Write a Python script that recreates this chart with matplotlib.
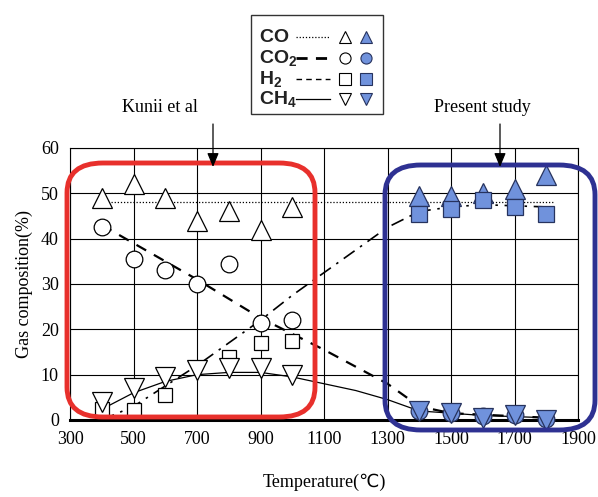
import matplotlib.pyplot as plt
from matplotlib.patches import FancyBboxPatch
from matplotlib.lines import Line2D

W, H = 598, 497

# Kunii et al (open markers)
kunii_t = [400, 500, 600, 700, 800, 900, 1000]
kunii_co = [49, 52, 49, 44, 46, 42, 47]
kunii_co2 = [42.5, 35.5, 33, 30, 34.5, 21.5, 22]
kunii_h2_t = [400, 500, 600, 800, 900, 1000]
kunii_h2 = [2.5, 2.2, 5.5, 14, 17, 17.5]
kunii_ch4 = [4, 7, 9.5, 11, 11.5, 11.5, 10]

# Present study (filled markers)
present_t = [1400, 1500, 1600, 1700, 1800]
present_co = [49.5, 49.5, 50, 51, 54]
present_h2 = [45.5, 46.5, 48.5, 47, 45.5]
present_co2 = [2, 1.5, 0.8, 1, 0.2]
present_ch4 = [2, 1.5, 0.5, 1, 0]

# trend lines
co_line_t = [430, 1820]
co_line = [48, 48]
co2_line_t = [400, 700, 900, 1100, 1300, 1400, 1500, 1800]
co2_line = [43, 31, 22.5, 15.5, 8, 3, 1.5, 0.5]
h2_line_t = [400, 500, 600, 700, 800, 900, 1000, 1100, 1200, 1300, 1400, 1500, 1600, 1800]
h2_line = [0, 3, 7.5, 12, 17, 22, 27.5, 32.5, 37.5, 42.5, 46, 47, 47.5, 47]
ch4_line_t = [390, 500, 600, 700, 800, 900, 1000, 1100, 1200, 1300, 1400, 1500, 1600, 1800]
ch4_line = [2, 6, 8.5, 10, 10.5, 10.5, 9.5, 8, 6.5, 4.5, 2, 1.5, 1, 0.5]

xticks = [300, 500, 700, 900, 1100, 1300, 1500, 1700, 1900]
yticks = [0, 10, 20, 30, 40, 50, 60]

serif = ['Liberation Serif', 'DejaVu Sans']
sans = 'Liberation Sans'
fill = '#7092dc'
edge_f = '#27335e'


def fx(px):
    return px / W


def fy(py):
    return 1 - py / H


fig = plt.figure(figsize=(W / 100, H / 100), dpi=100)
ax = fig.add_axes([fx(70), fy(420), fx(578) - fx(70), fy(148) - fy(420)])

ax.set_xlim(300, 1900)
ax.set_ylim(0, 60)
ax.set_xticks(xticks)
ax.set_yticks(yticks)
ax.grid(True, color='black', linewidth=0.8)
ax.set_axisbelow(True)
ax.tick_params(length=0, labelsize=13, pad=8)
for lab in ax.get_xticklabels() + ax.get_yticklabels():
    lab.set_family(serif)
for s in ax.spines.values():
    s.set_linewidth(0.8)
ax.spines['bottom'].set_linewidth(2.2)

ax.set_xlabel('Temperature(\u2103)', family=serif, fontsize=13, labelpad=18)
ax.set_ylabel('Gas composition(%)', family=serif, fontsize=13, labelpad=6)

# lines
ax.plot(co_line_t, co_line, color='black', linestyle=(0, (1, 1.5)), linewidth=0.9)
ax.plot(co2_line_t, co2_line, color='black', linestyle=(0, (5, 4)), linewidth=1.6)
ax.plot(h2_line_t, h2_line, color='black', linestyle=(0, (8, 4, 1.5, 4)), linewidth=1.2)
ax.plot(ch4_line_t, ch4_line, color='black', linewidth=0.9)

ow = dict(linestyle='none', markerfacecolor='white', markeredgecolor='black',
          markeredgewidth=0.9, clip_on=False, zorder=4)
ax.plot(kunii_t, kunii_co, marker='^', markersize=14, **ow)
ax.plot(kunii_t, kunii_co2, marker='o', markersize=12, **ow)
ax.plot(kunii_h2_t, kunii_h2, marker='s', markersize=10, **ow)
ax.plot(kunii_t, kunii_ch4, marker='v', markersize=14, **ow)

fw = dict(linestyle='none', markerfacecolor=fill, markeredgecolor=edge_f,
          markeredgewidth=0.9, clip_on=False, zorder=4)
ax.plot(present_t, present_co, marker='^', markersize=14, **fw)
ax.plot(present_t, present_h2, marker='s', markersize=11, **fw)
ax.plot(present_t, present_co2, marker='o', markersize=12, **fw)
ax.plot(present_t, present_ch4, marker='v', markersize=14, **fw)

# rounded frames
red = FancyBboxPatch((fx(67), fy(417)), fx(315) - fx(67), fy(163) - fy(417),
                     boxstyle='round,pad=0,rounding_size=0.06', transform=fig.transFigure,
                     fill=False, edgecolor='#e8302c', linewidth=3.5, zorder=6)
blue = FancyBboxPatch((fx(385), fy(430)), fx(595) - fx(385), fy(165) - fy(430),
                      boxstyle='round,pad=0,rounding_size=0.06', transform=fig.transFigure,
                      fill=False, edgecolor='#2e3192', linewidth=3.5, zorder=6)
fig.patches.extend([red, blue])

# annotations
fig.text(fx(160), fy(107), 'Kunii et al', family=serif, fontsize=13, ha='center', va='center')
fig.text(fx(482), fy(107), 'Present study', family=serif, fontsize=13, ha='center', va='center')
for x0 in (213, 500):
    arr = plt.Annotation('', xy=(fx(x0), fy(167)), xytext=(fx(x0), fy(124)),
                         xycoords='figure fraction', textcoords='figure fraction',
                         arrowprops=dict(arrowstyle='-|>,head_length=0.6,head_width=0.25',
                                         color='black', lw=0.9, mutation_scale=14,
                                         shrinkA=0, shrinkB=0))
    arr.set_zorder(10)
    fig.add_artist(arr)

# legend box
box = FancyBboxPatch((fx(251), fy(114)), fx(383) - fx(251), fy(15) - fy(114),
                     boxstyle='square,pad=0', transform=fig.transFigure,
                     facecolor='white', edgecolor='#333333', linewidth=1.0)
fig.patches.append(box)
rows = [
    (r'$\mathregular{CO}$', 37, (0, (1, 1.5)), 0.9, '^'),
    (r'$\mathregular{CO_2}$', 58, (0, (4, 3)), 2.0, 'o'),
    (r'$\mathregular{H_2}$', 79, (0, (4, 3)), 1.0, 's'),
    (r'$\mathregular{CH_4}$', 99, '-', 0.9, 'v'),
]
for lab, py, ls, lw, mk in rows:
    fig.text(fx(259), fy(py), lab, family=sans, fontsize=14, fontweight='bold',
             ha='left', va='center', color='#222222')
    fig.add_artist(Line2D([fx(296), fx(330)], [fy(py), fy(py)], transform=fig.transFigure,
                          color='black', linestyle=ls, linewidth=lw))
    fig.add_artist(Line2D([fx(345)], [fy(py)], transform=fig.transFigure, marker=mk,
                          markersize=8, markerfacecolor='white', markeredgecolor='black',
                          markeredgewidth=0.8, linestyle='none'))
    fig.add_artist(Line2D([fx(366)], [fy(py)], transform=fig.transFigure, marker=mk,
                          markersize=8, markerfacecolor=fill, markeredgecolor=edge_f,
                          markeredgewidth=0.8, linestyle='none'))

fig.savefig('out.png', dpi=100)
